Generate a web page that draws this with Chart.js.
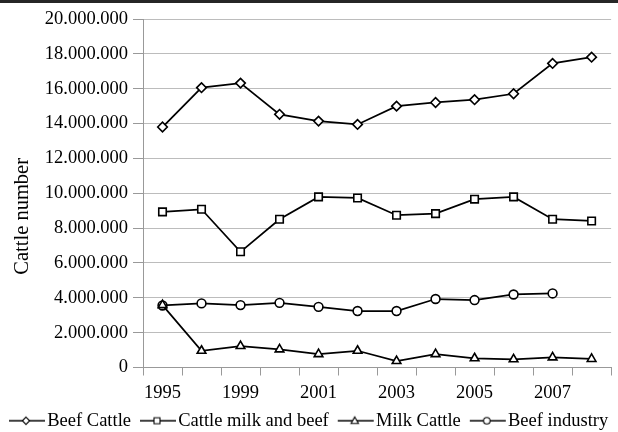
<!DOCTYPE html>
<html><head><meta charset="utf-8">
<script src="https://cdn.jsdelivr.net/npm/chart.js@4"></script>
<style>
html,body{margin:0;padding:0;background:#fff;overflow:hidden;width:618px;height:432px;}
#wrap{position:relative;width:618px;height:440px;}
#bar{position:absolute;left:0;top:0;width:618px;height:3px;background:#262626;z-index:2}
canvas{display:block}
</style></head><body>
<div id="wrap"><div id="bar"></div><canvas id="c" width="618" height="440"></canvas></div>
<script>
const categories = ['1995','1997','1999','2000','2001','2002','2003','2004','2005','2006','2007','2008'];
const beefCattle = [13800000, 16060000, 16320000, 14530000, 14140000, 13950000, 15000000, 15210000, 15370000, 15710000, 17450000, 17810000];
const milkAndBeef = [8930000, 9080000, 6640000, 8510000, 9790000, 9730000, 8740000, 8830000, 9660000, 9790000, 8510000, 8410000];
const milkCattle = [3580000, 960000, 1230000, 1040000, 770000, 960000, 370000, 770000, 530000, 470000, 580000, 490000];
const beefIndustry = [3560000, 3680000, 3580000, 3710000, 3480000, 3240000, 3240000, 3930000, 3870000, 4190000, 4250000, null];
const seriesNames = ['Beef Cattle', 'Cattle milk and beef', 'Milk Cattle', 'Beef industry'];
const yMax = 20000000, yStep = 2000000;

const FAM = "'Liberation Serif', 'Times New Roman', serif";
function fmt(v){ return String(v).replace(/\B(?=(\d{3})+(?!\d))/g, '.'); }

function legendIcon(style){
  const c = document.createElement('canvas');
  c.width = 54; c.height = 14;
  const g = c.getContext('2d');
  g.strokeStyle = '#000'; g.lineWidth = 1.3;
  g.beginPath(); g.moveTo(16, 7); g.lineTo(52, 7); g.stroke();
  const cx = 33, cy = 7;
  g.fillStyle = '#fff'; g.lineWidth = 1.1;
  g.beginPath();
  if (style === 'rectRot') { g.moveTo(cx, cy-3.7); g.lineTo(cx+3.7, cy); g.lineTo(cx, cy+3.7); g.lineTo(cx-3.7, cy); g.closePath(); }
  else if (style === 'rect') { g.rect(cx-3, cy-3, 6, 6); }
  else if (style === 'triangle') { g.moveTo(cx, cy-3.8); g.lineTo(cx+3.7, cy+2.7); g.lineTo(cx-3.7, cy+2.7); g.closePath(); }
  else { g.arc(cx, cy, 3.3, 0, Math.PI*2); }
  g.fill(); g.stroke();
  return c;
}
const styles = ['rectRot','rect','triangle','circle'];
const radii = [4.8, 5.3, 5, 4.4];
const values = [beefCattle, milkAndBeef, milkCattle, beefIndustry];

function build(){
  const icons = styles.map(legendIcon);
  const datasets = values.map((d, i) => ({
    label: seriesNames[i],
    data: d,
    borderColor: '#000',
    borderWidth: 1.75,
    backgroundColor: '#fff',
    pointStyle: styles[i],
    pointRadius: radii[i],
    pointBorderWidth: 1.6,
    pointBorderColor: '#000',
    pointBackgroundColor: '#fff',
    tension: 0,
    fill: false
  }));

  const ch = new Chart(document.getElementById('c'), {
    type: 'line',
    data: { labels: categories, datasets },
    options: {
      responsive: false,
      animation: false,
      layout: { padding: { top: 19, right: 0, left: 0, bottom: 0 } },
      plugins: {
        tooltip: { enabled: false },
        legend: {
          position: 'bottom',
          align: 'start',
          labels: {
            font: { family: FAM, size: 18.5 },
            color: '#000',
            usePointStyle: true,
            pointStyleWidth: 36,
            padding: 2,
            generateLabels(chart) {
              const items = Chart.defaults.plugins.legend.labels.generateLabels(chart);
              items.forEach((it, i) => { it.pointStyle = icons[i]; });
              return items;
            }
          }
        }
      },
      scales: {
        x: {
          offset: true,
          grid: { offset: true, drawOnChartArea: false, drawTicks: true, tickLength: 8, color: '#999' },
          border: { color: '#999' },
          ticks: {
            autoSkip: false, maxRotation: 0, minRotation: 0, padding: 0,
            font: { family: FAM, size: 18.5, lineHeight: '35px' }, color: '#000',
            callback(v, i) { return i % 2 === 0 ? this.getLabelForValue(v) : ''; }
          },
          afterFit(s) { s.height = 42; s.paddingRight = 0; s.paddingLeft = 0; }
        },
        y: {
          min: 0, max: yMax,
          ticks: { stepSize: yStep, callback: v => fmt(v), font: { family: FAM, size: 18.5 }, color: '#000', padding: 5 },
          grid: { color: '#bcbcbc', tickColor: '#999', tickLength: 10 },
          border: { color: '#999' },
          title: { display: true, text: 'Cattle number' + '         ', font: { family: FAM, size: 20.5 }, color: '#000', padding: { top: 10, bottom: 0 } },
          afterFit(s) { s.width = 143; }
        }
      }
    }
  });
  const gap = 618 - ch.chartArea.right;
  if (gap > 0.5) {
    ch.options.layout.padding.right = -gap;
    ch.update();
  }
}
if (document.fonts && document.fonts.load) {
  Promise.all([document.fonts.load("18px 'Liberation Serif'"), document.fonts.load("20px 'Liberation Serif'")]).then(build, build);
} else { build(); }
</script>
</body></html>
